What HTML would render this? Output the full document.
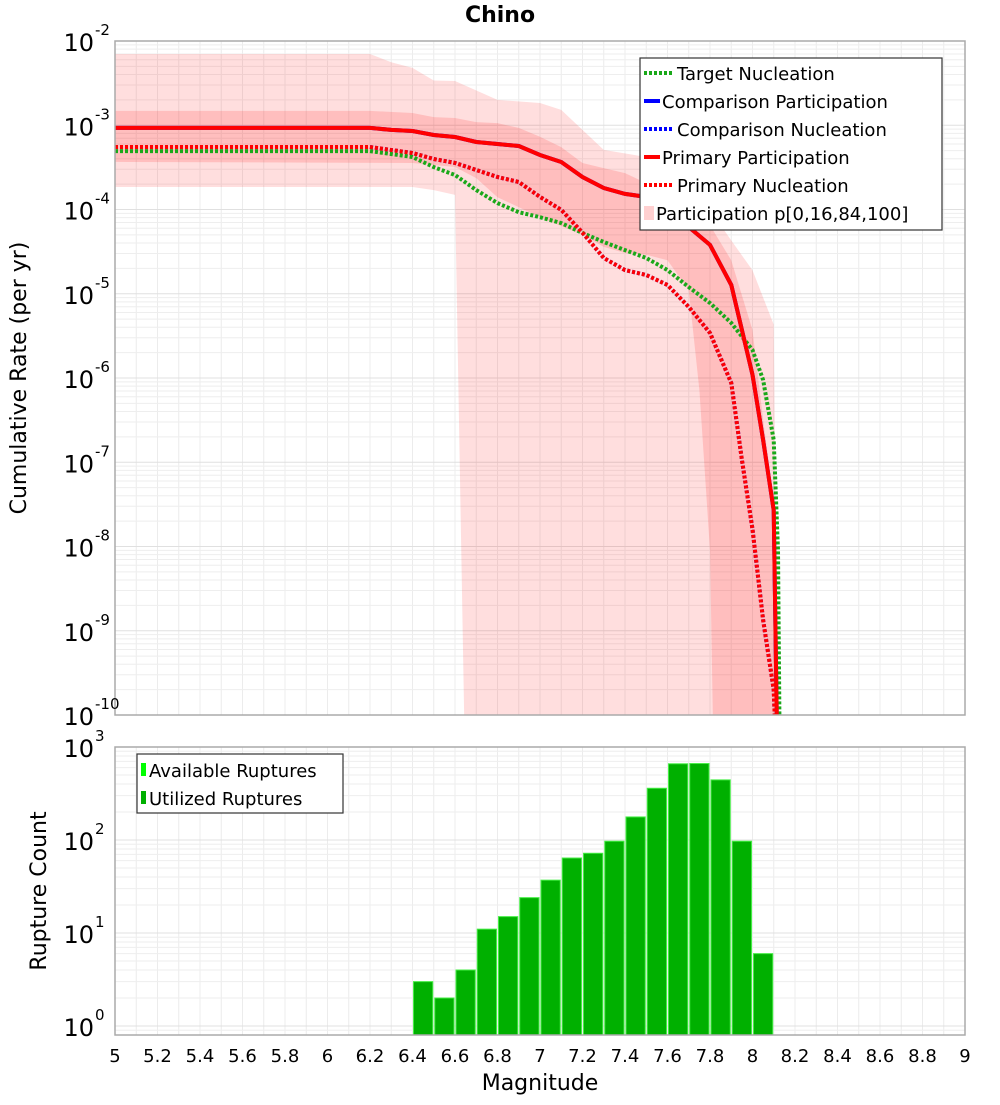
<!DOCTYPE html>
<html><head><meta charset="utf-8">
<style>
html,body{margin:0;padding:0;background:#fff;}
svg text{font-family:"DejaVu Sans","Liberation Sans",sans-serif;}
</style></head>
<body>
<svg id="chart" width="1000" height="1100" xmlns="http://www.w3.org/2000/svg">
<defs>
<clipPath id="topClip"><rect x="115" y="41" width="850" height="674"/></clipPath>
<clipPath id="botClip"><rect x="115" y="747" width="850" height="288"/></clipPath>
</defs>
<text x="500" y="22" text-anchor="middle" font-size="22" font-weight="bold">Chino</text>
<g id="topGrid"></g>
<g id="botGrid"></g>
<g id="topMarks" clip-path="url(#topClip)"></g>
<g id="botMarks" clip-path="url(#botClip)"></g>
<rect x="115" y="41" width="850" height="674" fill="none" stroke="#aaa" stroke-width="1.5"/>
<rect x="115" y="747" width="850" height="288" fill="none" stroke="#aaa" stroke-width="1.5"/>
<g id="axes"></g>
<text transform="translate(26,378) rotate(-90)" text-anchor="middle" font-size="22">Cumulative Rate (per yr)</text>
<text transform="translate(46,891) rotate(-90)" text-anchor="middle" font-size="22">Rupture Count</text>
<text x="540" y="1090" text-anchor="middle" font-size="22">Magnitude</text>

<g>
<rect x="640" y="58" width="302" height="172" fill="#fff" stroke="#333" stroke-width="1.2"/>
<g><line x1="644" y1="73" x2="672" y2="73" stroke="#1aa81a" stroke-width="4" stroke-dasharray="3,2"/><text x="677" y="80" font-size="18">Target Nucleation</text></g>
<g><line x1="644" y1="101" x2="660" y2="101" stroke="#0000ff" stroke-width="4"/><text x="662" y="108" font-size="18">Comparison Participation</text></g>
<g><line x1="644" y1="129" x2="672" y2="129" stroke="#0000ff" stroke-width="4" stroke-dasharray="3,2"/><text x="677" y="136" font-size="18">Comparison Nucleation</text></g>
<g><line x1="644" y1="157" x2="660" y2="157" stroke="#ff0000" stroke-width="4"/><text x="662" y="164" font-size="18">Primary Participation</text></g>
<g><line x1="644" y1="185" x2="672" y2="185" stroke="#ff0000" stroke-width="4" stroke-dasharray="3,2"/><text x="677" y="192" font-size="18">Primary Nucleation</text></g>
<g><rect x="644" y="206" width="10" height="14" fill="#ffd0d0"/><text x="656" y="220" font-size="18">Participation p[0,16,84,100]</text></g>
</g>
<g>
<rect x="137" y="754" width="206" height="59" fill="#fff" stroke="#333" stroke-width="1.2"/>
<g><rect x="141" y="763" width="5" height="13" fill="#00ff00"/><text x="149" y="777" font-size="18">Available Ruptures</text></g>
<g><rect x="141" y="791" width="5" height="13" fill="#00b000"/><text x="149" y="805" font-size="18">Utilized Ruptures</text></g>
</g>
</svg>
<script>
// ---- data ----
const xTicks = [5,5.2,5.4,5.6,5.8,6,6.2,6.4,6.6,6.8,7,7.2,7.4,7.6,7.8,8,8.2,8.4,8.6,8.8,9];
const xTickLabels = ["5","5.2","5.4","5.6","5.8","6","6.2","6.4","6.6","6.8","7","7.2","7.4","7.6","7.8","8","8.2","8.4","8.6","8.8","9"];
const topYExps = [-2,-3,-4,-5,-6,-7,-8,-9,-10];
const botYExps = [3,2,1,0];

const partMags = [5,6.2,6.3,6.4,6.5,6.6,6.7,6.8,6.9,7.0,7.1,7.2,7.3,7.4,7.5,7.6,7.7,7.8,7.9,8.0,8.05,8.1,8.12];
const partRates = [9.3e-4,9.3e-4,8.8e-4,8.55e-4,7.66e-4,7.26e-4,6.33e-4,5.99e-4,5.67e-4,4.43e-4,3.66e-4,2.43e-4,1.8e-4,1.53e-4,1.41e-4,1.13e-4,6.2e-5,3.8e-5,1.27e-5,1.09e-6,1.84e-7,2.7e-8,1e-11];

const nuclMags = [5,6.2,6.4,6.5,6.6,6.7,6.8,6.9,7.0,7.1,7.2,7.3,7.4,7.5,7.6,7.7,7.8,7.9,7.95,8.0,8.05,8.1,8.12];
const nuclRates = [5.52e-4,5.52e-4,4.69e-4,3.98e-4,3.57e-4,2.94e-4,2.43e-4,2.12e-4,1.41e-4,9.9e-5,5.3e-5,2.66e-5,1.91e-5,1.67e-5,1.27e-5,6.97e-6,3.42e-6,8.7e-7,1.07e-7,1.6e-8,1.35e-9,2e-10,1e-11];

const targMags = [5,6.2,6.4,6.5,6.6,6.7,6.8,6.9,7.0,7.1,7.2,7.3,7.4,7.5,7.6,7.7,7.8,7.9,8.0,8.05,8.1,8.12,8.13];
const targRates = [4.94e-4,4.94e-4,4.2e-4,3.19e-4,2.57e-4,1.7e-4,1.19e-4,9.3e-5,8.1e-5,6.9e-5,5.26e-5,4.11e-5,3.3e-5,2.66e-5,1.91e-5,1.2e-5,7.76e-6,4.5e-6,2.15e-6,9.5e-7,1.84e-7,9e-9,1e-11];

const outerHiMags = [5,6.2,6.3,6.4,6.5,6.6,6.8,7.0,7.1,7.2,7.3,7.5,7.6,7.7,7.8,7.9,8.0,8.1,8.12];
const outerHiRates = [7e-3,7e-3,5.6e-3,4.8e-3,3.4e-3,3.35e-3,2e-3,1.84e-3,1.52e-3,8.8e-4,5.1e-4,4.2e-4,3.2e-4,1.95e-4,9.9e-5,4.3e-5,1.9e-5,4.3e-6,1e-11];
const outerLoMags = [5,6.4,6.5,6.6,6.65,8.12];
const outerLoRates = [1.85e-4,1.85e-4,1.7e-4,1.49e-4,1e-11,1e-11];

const innerHiMags = [5,6.2,6.4,6.5,6.6,6.7,6.8,6.9,7.0,7.1,7.2,7.3,7.4,7.5,7.6,7.7,7.8,7.9,8.0,8.05,8.1,8.12];
const innerHiRates = [1.48e-3,1.48e-3,1.4e-3,1.25e-3,1.22e-3,1.09e-3,1.06e-3,9.3e-4,7.3e-4,5.5e-4,3.57e-4,3.1e-4,2.7e-4,2.06e-4,1.7e-4,1.3e-4,6.5e-5,2.5e-5,3.7e-6,3.2e-7,3.6e-8,1e-11];
const innerLoMags = [5,6.4,6.6,6.7,6.8,7.0,7.2,7.3,7.4,7.5,7.6,7.7,7.75,7.8,7.82];
const innerLoRates = [3.67e-4,3.57e-4,3.2e-4,2.36e-4,1.4e-4,8.1e-5,5e-5,3.6e-5,3.05e-5,2.9e-5,2.5e-5,1.1e-5,7.2e-7,9e-9,1e-11];

const binCenters = [6.45,6.55,6.65,6.75,6.85,6.95,7.05,7.15,7.25,7.35,7.45,7.55,7.65,7.75,7.85,7.95,8.05];
const binCounts = [3,2,4,11,15,24,37,64,72,97,177,360,660,664,443,97,6];

// ---- axes ----
const NS='http://www.w3.org/2000/svg';
const X0=115,X1=965,M0=5,M1=9;
const xs=m=>X0+(m-M0)/(M1-M0)*(X1-X0);
const TY0=41,TY1=715;
const yTop=v=>TY0+(-2-Math.log10(v))/8*(TY1-TY0);
const BY3=747,BY0=1026;
const yBot=v=>BY0-(Math.log10(v))/3*(BY0-BY3);
const BYB=1035;
function el(tag,attrs,parent){const e=document.createElementNS(NS,tag);for(const k in attrs)e.setAttribute(k,attrs[k]);parent.appendChild(e);return e;}
const tg=document.getElementById('topGrid'),bg=document.getElementById('botGrid'),ax=document.getElementById('axes');
const tm=document.getElementById('topMarks'),bm=document.getElementById('botMarks');

// vertical grid
for(let m=5;m<=9.001;m+=0.1){
  const x=xs(m);
  const l1=el('line',{x1:x,x2:x,y1:TY0,y2:TY1,stroke:'#ececec','stroke-width':1},tg);
  
  const l2=el('line',{x1:x,x2:x,y1:BY3,y2:BYB,stroke:'#ececec','stroke-width':1},bg);
  
}
// top horizontal grid
for(let e=-10;e<-2;e++){for(let k=1;k<10;k++){const y=yTop(k*Math.pow(10,e));
  const l=el('line',{x1:X0,x2:X1,y1:y,y2:y,stroke:k==1?'#e0e0e0':'#eeeeee','stroke-width':1},tg);
  }}
for(let e=-1;e<3;e++){for(let k=1;k<10;k++){const y=yBot(k*Math.pow(10,e));if(y<BY3||y>BYB)continue;
  const l=el('line',{x1:X0,x2:X1,y1:y,y2:y,stroke:k==1?'#e0e0e0':'#eeeeee','stroke-width':1},bg);
  }}

// tick labels
xTicks.forEach((m,i)=>{const t=el('text',{x:xs(m),y:1062,'text-anchor':'middle','font-size':18},ax);t.textContent=xTickLabels[i];
  });
function expLabel(y,e,parent,name){
  const t=el('text',{x:94,y:y+10,'text-anchor':'end','font-size':24},parent);t.textContent='10';
  
  const s=el('text',{x:95,y:y-6,'text-anchor':'start','font-size':15},parent);s.textContent=String(e);
  
}
topYExps.forEach(e=>expLabel(yTop(Math.pow(10,e)),e,ax,'top-y-tick-label'));
botYExps.forEach(e=>expLabel(yBot(Math.pow(10,e)),e,ax,'bottom-y-tick-label'));

// bands
function bandPath(hm,hr,lm,lr,sx,sy){let d='';hm.forEach((m,i)=>{d+=(i?'L':'M')+sx(m)+','+sy(hr[i]);});
  for(let i=lm.length-1;i>=0;i--)d+='L'+sx(lm[i])+','+sy(lr[i]);return d+'Z';}
const ob=el('path',{d:bandPath(outerHiMags,outerHiRates,outerLoMags,outerLoRates,xs,yTop),fill:'#ff0000','fill-opacity':0.13},tm);

const ib=el('path',{d:bandPath(innerHiMags,innerHiRates,innerLoMags,innerLoRates,xs,yTop),fill:'#ff0000','fill-opacity':0.14},tm);


function line(mags,rates,color,dash,name){let d='';mags.forEach((m,i)=>{d+=(i?'L':'M')+xs(m).toFixed(1)+','+yTop(rates[i]).toFixed(1);});
  const p=el('path',{d:d,fill:'none',stroke:color,'stroke-width':4,'stroke-dasharray':dash||'none'},tm);
  }
line(partMags,partRates,'#0000ff',null,'comparison-participation-line');
line(nuclMags,nuclRates,'#0000ff','3,2','comparison-nucleation-line');
line(targMags,targRates,'#1aa81a','3,2','target-nucleation-line');
line(partMags,partRates,'#ff0000',null,'primary-participation-line');
line(nuclMags,nuclRates,'#ff0000','3,2','primary-nucleation-line');

// bars
binCenters.forEach((c,i)=>{const x0=xs(c-0.05)+1,x1=xs(c+0.05)-1,y=yBot(binCounts[i]);
  const r=el('rect',{x:x0,y:y,width:x1-x0,height:BYB-y,fill:'#00b000',stroke:'#44ee44','stroke-width':1},bm);
  });
</script>
</body></html>
